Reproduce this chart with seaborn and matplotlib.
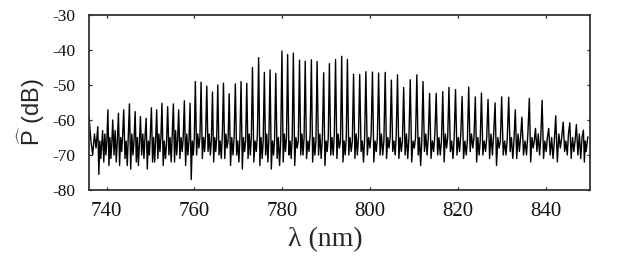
import numpy as np
import pandas as pd
import matplotlib
matplotlib.use("Agg")
import matplotlib.pyplot as plt
import seaborn as sns

# Comb line peaks (wavelength nm, level dB)
peak_nm = [736.0, 738.0, 739.1, 740.3, 741.4, 742.7, 743.9, 745.2, 746.5, 747.7,
           749.0, 750.2, 751.4, 752.6, 753.9, 755.2, 756.4, 757.7, 759.0, 760.2,
           761.5, 762.8, 764.1, 765.3, 766.6, 767.9, 769.3, 770.6, 771.9, 773.2,
           774.6, 775.9, 777.2, 778.5, 779.9, 781.2, 782.5, 783.9, 785.2, 786.6,
           787.9, 789.4, 790.7, 792.1, 793.5, 794.8, 796.2, 797.6, 799.0, 800.5,
           801.9, 803.4, 804.8, 806.2, 807.6, 809.1, 810.6, 812.0, 813.5, 815.0,
           816.5, 817.9, 819.4, 820.9, 822.4, 823.9, 825.3, 826.8, 828.4, 829.9,
           831.5, 833.0, 834.5, 836.2, 837.6, 839.1, 840.6, 842.2, 843.9, 845.4,
           846.9, 848.5, 849.5]
peak_db = [-59.0, -61.9, -63.0, -57.1, -60.0, -58.1, -57.1, -55.4, -57.6, -59.0,
           -59.5, -56.5, -57.1, -55.2, -56.2, -55.4, -57.1, -54.5, -55.2, -49.0,
           -49.2, -50.3, -52.0, -50.0, -49.5, -52.5, -49.7, -49.0, -49.5, -45.0,
           -42.2, -46.4, -45.7, -46.7, -40.3, -41.3, -40.9, -42.9, -43.2, -42.8,
           -43.3, -46.5, -43.9, -42.7, -41.8, -42.7, -46.9, -47.0, -46.2, -46.3,
           -46.6, -46.4, -48.6, -47.1, -50.7, -48.5, -47.1, -49.0, -52.4, -52.4,
           -51.9, -50.7, -51.3, -53.3, -50.6, -53.4, -52.3, -54.1, -55.1, -53.4,
           -53.5, -57.1, -59.2, -53.8, -62.4, -54.4, -62.4, -58.8, -60.6, -60.8,
           -61.3, -62.9, -64.8]

# Noise floor between successive lines (4 levels per gap, dB)
floor_db = [
    [-66, -70, -64, -68], [-75.5, -66, -71, -67], [-72, -64, -70, -66], [-73, -65, -71, -67],
    [-70, -63, -72, -66], [-73, -65, -69, -64], [-71, -66, -73, -65], [-74, -64, -70, -66],
    [-72, -65, -73, -67], [-70, -64, -71, -65], [-74, -66, -70, -64], [-72, -65, -72, -66],
    [-71, -64, -69, -65], [-73, -66, -71, -67], [-70, -65, -72, -64], [-72, -63, -70, -66],
    [-71, -65, -69, -65], [-73, -64, -70, -66], [-77, -66, -70, -65], [-70, -64, -68, -65],
    [-71, -65, -69, -64], [-69, -64, -70, -66], [-72, -65, -69, -65], [-70, -66, -71, -64],
    [-71, -64, -68, -66], [-73, -65, -70, -65], [-70, -66, -72, -65], [-74, -65, -69, -66],
    [-71, -64, -70, -65], [-72, -66, -69, -64], [-73, -65, -71, -66], [-70, -64, -72, -65],
    [-74, -66, -70, -65], [-71, -65, -73, -66], [-72, -64, -69, -65], [-70, -66, -71, -65],
    [-73, -65, -68, -66], [-70, -64, -70, -65], [-71, -66, -69, -64], [-72, -65, -70, -66],
    [-70, -64, -71, -65], [-73, -66, -69, -65], [-70, -65, -70, -64], [-71, -64, -68, -66],
    [-72, -66, -70, -65], [-70, -65, -69, -66], [-71, -64, -70, -65], [-69, -66, -72, -65],
    [-70, -65, -68, -64], [-72, -66, -69, -65], [-70, -64, -70, -66], [-71, -65, -68, -65],
    [-69, -66, -70, -64], [-71, -65, -69, -66], [-70, -64, -71, -65], [-72, -66, -68, -65],
    [-70, -65, -73, -66], [-69, -64, -70, -65], [-71, -66, -69, -64], [-70, -65, -70, -66],
    [-72, -64, -68, -65], [-69, -66, -71, -65], [-70, -65, -69, -64], [-71, -66, -70, -66],
    [-69, -64, -68, -65], [-72, -65, -70, -66], [-70, -66, -69, -65], [-71, -64, -70, -64],
    [-73, -65, -68, -66], [-70, -66, -70, -65], [-69, -65, -71, -66], [-71, -64, -69, -65],
    [-70, -66, -70, -64], [-72, -65, -68, -66], [-69, -64, -70, -65], [-71, -66, -69, -65],
    [-70, -65, -71, -66], [-72, -64, -68, -65], [-69, -66, -70, -64], [-71, -65, -69, -66],
    [-70, -64, -71, -65], [-72, -66, -69, -67],
]

x_ticks = [740, 760, 780, 800, 820, 840]
y_ticks = [-80, -70, -60, -50, -40, -30]

# Build the trace: each line followed by its floor samples placed inside the gap
frac = [0.22, 0.42, 0.62, 0.8]
xs, ys = [], []
for i in range(len(peak_nm)):
    xs.append(peak_nm[i]); ys.append(peak_db[i])
    if i < len(floor_db):
        a, b = peak_nm[i], peak_nm[i + 1]
        for f, v in zip(frac, floor_db[i]):
            xs.append(a + f * (b - a)); ys.append(v)
df = pd.DataFrame({"wl": xs, "p": ys})

sns.set_theme(style="white")
plt.rcParams["font.family"] = ["Liberation Serif", "DejaVu Serif"]
plt.rcParams["mathtext.fontset"] = "custom"
plt.rcParams["mathtext.rm"] = "Liberation Sans"
plt.rcParams["mathtext.it"] = "Liberation Sans:italic"
plt.rcParams["mathtext.bf"] = "Liberation Sans:bold"

fig = plt.figure(figsize=(6.18, 2.79), dpi=100)
ax = fig.add_axes([89 / 618, 1 - 190 / 279, (590 - 89) / 618, (190 - 15) / 279])

sns.lineplot(data=df, x="wl", y="p", ax=ax, color="black", linewidth=1.0,
             estimator=None, sort=True)

ax.set_xlim(736, 850)
ax.set_ylim(-80, -30)
ax.set_xticks(x_ticks)
ax.set_yticks(y_ticks)
ax.set_xticklabels([str(t) for t in x_ticks], fontsize=15)
ax.set_yticklabels([str(t) for t in y_ticks], fontsize=12.5)
ax.tick_params(axis="both", direction="in", length=2.5, width=0.9, color="#222222",
               top=True, right=True, bottom=True, left=True, labelcolor="#111111")
ax.tick_params(axis="x", pad=9)
ax.tick_params(axis="y", pad=10)
for s in ax.spines.values():
    s.set_color("#333333")
    s.set_linewidth(1.3)

ax.set_xlabel("λ (nm)", fontsize=20, family=["Liberation Serif", "DejaVu Serif"])
ax.xaxis.label.set_verticalalignment("center")
ax.xaxis.set_label_coords((325 - 89) / 501, 1 - (240 - 15) / 175)

ax.set_ylabel(r"$\widehat{\mathrm{P}}$ (dB)", fontsize=17,
              family=["Liberation Sans", "DejaVu Sans"])
ax.yaxis.set_label_coords((31 - 89) / 501, 1 - (112 - 15) / 175)
ax.yaxis.label.set_verticalalignment("center")

fig.savefig("out.png", dpi=100)
